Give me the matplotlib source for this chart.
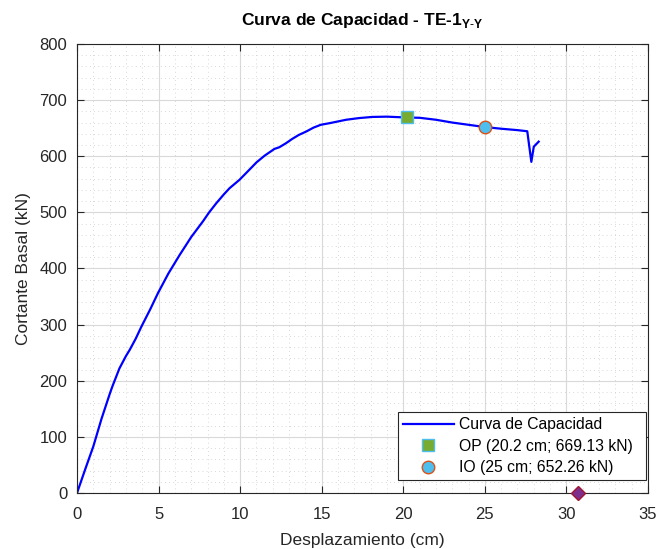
import matplotlib
matplotlib.use('Agg')
import matplotlib.pyplot as plt
from matplotlib.ticker import MultipleLocator

plt.rcParams['font.family'] = ['Liberation Sans', 'DejaVu Sans']
plt.rcParams['mathtext.fontset'] = 'custom'
plt.rcParams['mathtext.rm'] = 'Liberation Sans'
plt.rcParams['mathtext.bf'] = 'Liberation Sans:bold'

# capacity curve (desplazamiento cm, cortante kN)
desp = [0, 0.5, 1.0, 1.5, 2.0, 2.17, 2.6, 3.0, 3.23, 3.6, 3.94, 4.5, 4.96,
        5.6, 6.29, 7.0, 7.72, 8.1, 8.53, 9.0, 9.35, 9.96, 10.5, 11.0, 11.5,
        12.1, 12.4, 12.8, 13.2, 13.6, 14.05, 14.5, 14.94, 15.5, 16.5, 17.3,
        18.1, 19.0, 20.2, 21.0, 22.0, 23.0, 24.0, 25.0, 26.0, 27.0, 27.6,
        27.85, 28.0, 28.3]
cortante = [0, 42, 83, 132, 176, 190, 222, 244, 255, 275, 296, 328, 356,
            391, 424, 456, 484, 500, 516, 532, 543, 558, 574, 589, 601,
            613, 616, 623, 631, 638, 644, 651, 656, 659, 665, 668,
            670, 670.5, 669, 668.5, 665, 660, 656, 652, 649, 646.5, 644.5,
            590, 617, 626]

op_pt = (20.2, 669.13)
io_pt = (25.0, 652.26)
extra_pt = (30.7, 0)

fig = plt.figure(figsize=(6.61, 5.49), dpi=100)
ax = fig.add_axes([0.1165, 0.102, 0.8638, 0.8179])

ax.plot(desp, cortante, color='#0000ff', lw=1.6, label='Curva de Capacidad  ')
ax.plot(*op_pt, 's', ms=8, mfc='#77AC30', mec='#4DBEEE', mew=1,
        ls='none', label='OP (20.2 cm; 669.13 kN)  ')
ax.plot(*io_pt, 'o', ms=9, mfc='#4DBEEE', mec='#D95319', mew=1,
        ls='none', label='IO (25 cm; 652.26 kN)  ')
ax.plot(*extra_pt, 'D', ms=7, mfc='#7E2F8E', mec='#A2142F', mew=1,
        ls='none', clip_on=False, zorder=5)

ax.set_xlim(0, 35)
ax.set_ylim(0, 800)
ax.xaxis.set_major_locator(MultipleLocator(5))
ax.xaxis.set_minor_locator(MultipleLocator(1))
ax.yaxis.set_major_locator(MultipleLocator(100))
ax.yaxis.set_minor_locator(MultipleLocator(20))

ax.grid(which='major', color='#d9d9d9', lw=0.8)
ax.grid(which='minor', color='#cccccc', lw=0.6, ls=(0, (1, 4)))
ax.set_axisbelow(True)
ax.tick_params(which='both', direction='in', top=True, right=True,
               colors='#262626', labelsize=12)
ax.tick_params(which='minor', length=0)
ax.tick_params(which='major', length=5)
ax.tick_params(axis='x', pad=10)
ax.tick_params(axis='y', pad=7)
for s in ax.spines.values():
    s.set_color('#262626')
    s.set_linewidth(0.8)

ax.set_xlabel('Desplazamiento (cm)', fontsize=12.5, color='#262626', labelpad=8)
ax.set_ylabel('Cortante Basal (kN)', fontsize=12.5, color='#262626', labelpad=6)
ax.set_title(r'Curva de Capacidad - TE-1$_{\mathbf{Y\text{-}Y}}$',
             fontsize=12.5, fontweight='bold', pad=14)

leg = ax.legend(loc='lower right', bbox_to_anchor=(0.997, 0.029),
                fontsize=11.3, fancybox=False, framealpha=1, edgecolor='#262626',
                handlelength=3.3, borderpad=0.3, labelspacing=0.42,
                handletextpad=0.3, borderaxespad=0.0)
leg.get_frame().set_linewidth(0.8)

fig.savefig('out.png', dpi=100)
